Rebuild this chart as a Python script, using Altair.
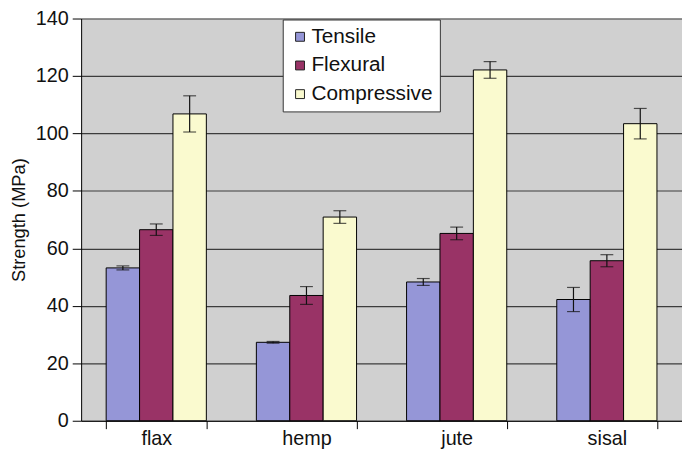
import altair as alt
import pandas as pd

fibres = ["flax", "hemp", "jute", "sisal"]
series = ["Tensile", "Flexural", "Compressive"]
tensile = [53.2, 27.3, 48.3, 42.2]
tensile_err = [0.7, 0.3, 1.2, 4.2]
flexural = [66.5, 43.6, 65.2, 55.7]
flexural_err = [2.0, 3.1, 2.2, 2.1]
compressive = [106.8, 70.9, 122.1, 103.4]
compressive_err = [6.3, 2.2, 2.9, 5.3]
colors = ["#9596D7", "#993366", "#FAFACF"]
y_ticks = [0, 20, 40, 60, 80, 100, 120, 140]

rows = []
for name, vals, errs in zip(series, [tensile, flexural, compressive],
                            [tensile_err, flexural_err, compressive_err]):
    for f, v, e in zip(fibres, vals, errs):
        rows.append({"fibre": f, "series": name, "value": v,
                     "lo": v - e, "hi": v + e})
df = pd.DataFrame(rows)

x_enc = alt.X("fibre:N", sort=fibres,
              scale=alt.Scale(paddingInner=0.333, paddingOuter=0.1667),
              axis=alt.Axis(title=None, tickBand="extent", labelAngle=0,
                            labelFontSize=20, labelColor="#111",
                            domainColor="#000", tickColor="#000",
                            tickSize=8, labelPadding=0, grid=False))
xo_enc = alt.XOffset("series:N", sort=series,
                     scale=alt.Scale(paddingInner=0, paddingOuter=0))

base = alt.Chart(df)

bars = base.mark_bar(stroke="#000", strokeWidth=1).encode(
    x=x_enc,
    xOffset=xo_enc,
    y=alt.Y("value:Q", scale=alt.Scale(domain=[0, 140], nice=False),
            axis=alt.Axis(values=y_ticks, title="Strength (MPa)",
                          titleFontSize=18.5, titleFontWeight="normal",
                          titleColor="#111", titlePadding=7,
                          labelFontSize=20, labelColor="#111",
                          labelPadding=4, tickSize=9, tickColor="#000",
                          domainColor="#000", grid=True,
                          gridColor="#3c3c3c", gridWidth=1.2)),
    color=alt.Color("series:N", sort=series,
                    scale=alt.Scale(domain=series, range=colors),
                    title=None,
                    legend=alt.Legend(orient="none", legendX=204, legendY=1,
                                      fillColor="#ffffff", strokeColor="#333",
                                      padding=7, symbolType="square",
                                      symbolSize=81, symbolStrokeColor="#222",
                                      symbolStrokeWidth=1, labelFontSize=21,
                                      labelColor="#111", labelOffset=1,
                                      rowPadding=7)),
)

err = base.mark_rule(color="#111", strokeWidth=1.2).encode(
    x=alt.X("fibre:N", sort=fibres), xOffset=xo_enc,
    y="lo:Q", y2="hi:Q")
cap_lo = base.mark_tick(color="#111", thickness=1.2, size=13,
                        orient="horizontal").encode(
    x=alt.X("fibre:N", sort=fibres), xOffset=xo_enc, y="lo:Q")
cap_hi = base.mark_tick(color="#111", thickness=1.2, size=13,
                        orient="horizontal").encode(
    x=alt.X("fibre:N", sort=fibres), xOffset=xo_enc, y="hi:Q")

chart = alt.layer(bars, err, cap_lo, cap_hi).properties(
    width=608, height=407,
    autosize=alt.AutoSizeParams(type="none"),
    padding={"left": 74, "top": 8, "right": 0, "bottom": 31},
).configure(font="Liberation Sans").configure_view(fill="#D0D0D0", strokeWidth=0)

chart.save("out.html", embed_options={"renderer": "svg", "actions": False})
